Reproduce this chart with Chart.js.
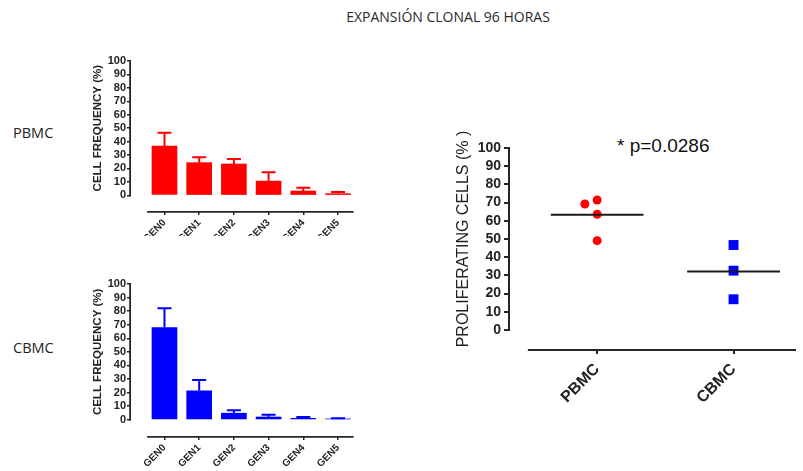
<!DOCTYPE html>
<html><head><meta charset="utf-8">
<script src="https://cdn.jsdelivr.net/npm/chart.js@4.4.1/dist/chart.umd.min.js"></script>
<style>
html,body{margin:0;padding:0;background:#fff;}
#wrap{position:relative;width:803px;height:471px;overflow:hidden;background:#fff;}
canvas{position:absolute;left:0;top:0;}
.t{position:absolute;white-space:nowrap;color:#222;}
</style></head><body>
<div id="wrap">
<div class="t" style="left:248px;top:10px;width:400px;text-align:center;font:14px/14px 'Open Sans';color:#2a2a2a;">EXPANSIÓN CLONAL 96 HORAS</div>
<div class="t" style="left:13px;top:126px;font:14.5px/14.5px 'Open Sans';">PBMC</div>
<div class="t" style="left:13px;top:341px;font:14.5px/14.5px 'Open Sans';">CBMC</div>
<div class="t" style="left:617px;top:136px;font:19px/19px 'Liberation Sans';color:#111;">* p=0.0286</div>
<canvas id="c1" width="803" height="238"></canvas>
<canvas id="c2" width="803" height="471"></canvas>
<canvas id="c3" width="803" height="471"></canvas>
</div>
<script>
// ---- data ----
const genLabels = ['GEN0', 'GEN1', 'GEN2', 'GEN3', 'GEN4', 'GEN5'];
const yTicks = [0, 10, 20, 30, 40, 50, 60, 70, 80, 90, 100];
const pbmcFreq = [36.7, 24.3, 23.3, 10.6, 3.2, 1.2];
const pbmcErr  = [9.9, 4.0, 3.7, 6.5, 2.5, 1.2];
const cbmcFreq = [67.9, 21.3, 4.8, 2.0, 1.0, 0.6];
const cbmcErr  = [14.2, 7.9, 2.1, 1.6, 1.0, 0.4];
const groups = ['PBMC', 'CBMC'];
const pbmcPoints = [69.2, 71.4, 63.6, 49.1];
const pbmcOffset = [-0.09, 0, 0, 0];
const cbmcPoints = [46.7, 32.6, 16.9];
const cbmcOffset = [0, 0, 0];
const pbmcMean = 63.3;
const cbmcMean = 32.1;

const AXIS = '#262626';
const FONT = "'Liberation Sans', Arial, sans-serif";

const axisPlugin = {
  id: 'axisPlugin',
  afterDraw(chart) {
    const o = chart.options.plugins.axisPlugin;
    const {ctx, chartArea} = chart;
    const xs = chart.scales.x, ys = chart.scales.y;
    ctx.save();
    ctx.strokeStyle = AXIS; ctx.lineWidth = o.lw; ctx.lineCap = 'butt';
    const yx = chartArea.left - o.lw / 2;
    ctx.beginPath();
    ctx.moveTo(yx, ys.getPixelForValue(0) + o.lw / 2);
    ctx.lineTo(yx, ys.getPixelForValue(100) - o.lw / 2);
    ctx.stroke();
    const xy = chartArea.bottom + o.lw / 2;
    ctx.beginPath();
    ctx.moveTo(xs.getPixelForValue(o.xFrom), xy);
    ctx.lineTo(o.xTo === null ? chartArea.right : xs.getPixelForValue(o.xTo), xy);
    ctx.stroke();
    if (o.errors) {
      const meta = chart.getDatasetMeta(0);
      const vals = o.values;
      ctx.strokeStyle = o.errColor; ctx.lineWidth = 2;
      meta.data.forEach((bar, i) => {
        const top = ys.getPixelForValue(vals[i] + o.errors[i]);
        const base = ys.getPixelForValue(vals[i]);
        ctx.beginPath();
        ctx.moveTo(bar.x, base); ctx.lineTo(bar.x, top);
        ctx.moveTo(bar.x - 7, top); ctx.lineTo(bar.x + 7, top);
        ctx.stroke();
      });
    }
    ctx.fillStyle = '#222';
    ctx.font = o.titleFont;
    ctx.textAlign = 'center'; ctx.textBaseline = 'middle';
    ctx.translate(o.titleX, (ys.getPixelForValue(0) + ys.getPixelForValue(100)) / 2);
    ctx.rotate(-Math.PI / 2);
    ctx.fillText(o.title, 0, 0);
    ctx.restore();
  }
};

function barChart(id, vals, errs, color, lay) {
  return new Chart(document.getElementById(id), {
    type: 'bar',
    data: { datasets: [{ data: vals.map((v, i) => ({x: i, y: v})), backgroundColor: color, borderWidth: 0, barThickness: 25 }] },
    options: {
      responsive: false, animation: false, devicePixelRatio: 1,
      layout: { padding: { left: 85, right: 448, top: lay.top, bottom: lay.bottom } },
      plugins: {
        legend: { display: false }, tooltip: { enabled: false },
        axisPlugin: { lw: 1.8, xFrom: -0.5, xTo: 5.45, errors: errs, values: vals, errColor: color,
          title: 'CELL FREQUENCY (%)', titleFont: "bold 11.5px " + FONT, titleX: 98 }
      },
      scales: {
        x: {
          type: 'linear', min: -0.965, max: 5.49, offset: false,
          afterBuildTicks: s => { s.ticks = genLabels.map((_, i) => ({value: i})); },
          afterFit: s => { s.height = lay.xh; },
          grid: { display: true, drawOnChartArea: false, drawTicks: true, tickLength: 4, color: AXIS, lineWidth: 1.5, offset: false },
          border: { display: false },
          ticks: { autoSkip: false, minRotation: 45, maxRotation: 45, padding: 2, color: '#222',
            font: { family: FONT, size: 10, weight: 'bold' }, callback: v => genLabels[v] }
        },
        y: {
          min: lay.ymin, max: 100,
          afterBuildTicks: s => { s.ticks = yTicks.map(v => ({value: v})); },
          afterFit: s => { s.width = 46; },
          grid: { display: true, drawOnChartArea: false, drawTicks: true, tickLength: 4, color: AXIS, lineWidth: 1.5 },
          border: { display: false },
          ticks: { autoSkip: false, padding: 1, color: '#222', font: { family: FONT, size: 11, weight: 'bold' } }
        }
      }
    },
    plugins: [axisPlugin]
  });
}

barChart('c1', pbmcFreq, pbmcErr, '#FF0000', { top: 61, bottom: 2, xh: 25, ymin: -11.7 });
barChart('c2', cbmcFreq, cbmcErr, '#0000FF', { top: 284, bottom: 2, xh: 33, ymin: -12.0 });

new Chart(document.getElementById('c3'), {
  type: 'scatter',
  data: { datasets: [
    { type: 'line', data: [{x: -0.34, y: pbmcMean}, {x: 0.34, y: pbmcMean}], borderColor: '#1a1a1a', borderWidth: 2, pointRadius: 0, showLine: true },
    { type: 'line', data: [{x: 1 - 0.34, y: cbmcMean}, {x: 1 + 0.34, y: cbmcMean}], borderColor: '#1a1a1a', borderWidth: 2, pointRadius: 0, showLine: true },
    { data: pbmcPoints.map((v, i) => ({x: 0 + pbmcOffset[i], y: v})), pointStyle: 'circle', pointRadius: 4.5, pointBackgroundColor: '#FF0000', pointBorderWidth: 0 },
    { data: cbmcPoints.map((v, i) => ({x: 1 + cbmcOffset[i], y: v})), pointStyle: 'rect', pointRadius: 7, pointBackgroundColor: '#0000FF', pointBorderWidth: 0 }
  ] },
  options: {
    responsive: false, animation: false, devicePixelRatio: 1,
    layout: { padding: { left: 450, right: 0, top: 148, bottom: 62 } },
    plugins: {
      legend: { display: false }, tooltip: { enabled: false },
      axisPlugin: { lw: 2, xFrom: -0.508, xTo: null, errors: null,
        title: 'PROLIFERATING CELLS (% )', titleFont: "16px " + FONT, titleX: 463.5 }
    },
    scales: {
      x: {
        type: 'linear', min: -0.639, max: 1.458, offset: false,
        afterBuildTicks: s => { s.ticks = groups.map((_, i) => ({value: i})); },
        afterFit: s => { s.height = 60; },
        grid: { display: true, drawOnChartArea: false, drawTicks: true, tickLength: 5, color: AXIS, lineWidth: 2, offset: false },
        border: { display: false },
        ticks: { autoSkip: false, minRotation: 45, maxRotation: 45, padding: 6, color: '#222',
          font: { family: FONT, size: 16, weight: 'bold' }, callback: v => groups[v] }
      },
      y: {
        min: -10.44, max: 100,
        afterBuildTicks: s => { s.ticks = yTicks.map(v => ({value: v})); },
        afterFit: s => { s.width = 60; },
        grid: { display: true, drawOnChartArea: false, drawTicks: true, tickLength: 6, color: AXIS, lineWidth: 2 },
        border: { display: false },
        ticks: { autoSkip: false, padding: 3, color: '#222', font: { family: FONT, size: 14, weight: 'bold' } }
      }
    }
  },
  plugins: [axisPlugin]
});
</script>
</body></html>
